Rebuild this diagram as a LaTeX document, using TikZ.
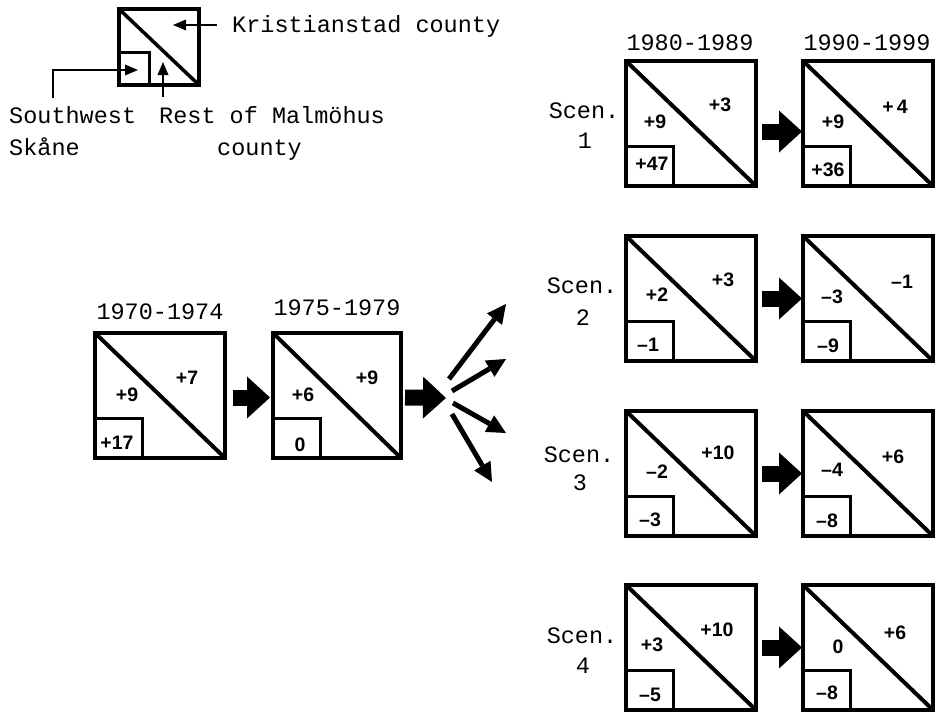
\documentclass[tikz,border=0pt]{standalone}
\usepackage{fontspec}
\setmonofont{Liberation Mono}
\newfontfamily\numfont{Liberation Sans}
\usetikzlibrary{arrows.meta,calc}
\begin{document}
\begin{tikzpicture}[x=1pt,y=-1pt,
  lbl/.style={font=\fontsize{23.5}{26}\selectfont\ttfamily, inner sep=0pt, anchor=base},
  num/.style={font=\fontsize{19.5}{22}\selectfont\numfont\bfseries, inner sep=0pt},
  regbox/.style={draw, line width=4pt, minimum width=130pt, minimum height=125pt, inner sep=0pt, outer sep=0pt, anchor=north west},
  legbox/.style={draw, line width=4pt, minimum width=80pt, minimum height=76pt, inner sep=0pt, outer sep=0pt, anchor=north west},
  fat/.style={line width=16pt, -{Triangle[length=23pt,width=42pt,line width=0pt]}},
  thinarr/.style={line width=5pt, -{Triangle[length=19pt,width=19pt,line width=0pt]}},
  legarr/.style={line width=2.5pt, -{Triangle[length=13pt,width=11pt,line width=0pt]}},
]
\useasboundingbox (0,0) rectangle (937,712);
\newcommand\boxdetail[1]{%
  \draw[line width=4pt] (#1.north west) -- (#1.south east);
  \draw[line width=3pt] (#1.south west) rectangle ++(47,-40);}

% ---- legend ----
\node[legbox] (L) at (119,9) {};
\draw[line width=3.5pt] (L.north west) -- (L.south east);
\draw[line width=3pt] (L.south west) rectangle ++(30,-33);
\node[lbl, anchor=base west] (kr) at (232,32) {Kristianstad county};
\node[lbl, anchor=base west] (sw) at (9,123) {Southwest};
\node[lbl, anchor=base west] (sk) at (9,155) {Skåne};
\node[lbl, anchor=base west] (rm) at (159,123) {Rest of Malmöhus};
\node[lbl, anchor=base west] (co) at (217,155) {county};
\coordinate (krt) at (173,25);
\coordinate (swt) at (138,70);
\coordinate (rmt) at (163,62);
\draw[legarr] (kr.west |- krt) ++(-15,0) -- (krt);
\draw[legarr, line join=miter] (53,98) -- (53,70) -- (swt);
\draw[legarr] (163,97) -- (rmt);

% ---- left chain ----
\node[regbox] (A) at (95,333) {};
\node[regbox, minimum width=128pt] (B) at (273,333) {};
\boxdetail{A}\boxdetail{B}
\node[lbl] (yA) at (160,319) {1970-1974};
\node[lbl] (yB) at (337,315) {1975-1979};
\node[num] (a1) at (187,378) {+7};
\node[num] (a2) at (127,395) {+9};
\node[num] (a3) at (117,443) {+17};
\node[num] (b1) at (367,378) {+9};
\node[num] (b2) at (303,395) {+6};
\node[num] (b3) at (300,445) {0};
\draw[fat] ($(A.east)+(8,2)$) -- ($(B.west)+(-3,2)$);
\coordinate (hub) at (446,398);
\draw[fat] ($(B.east)+(4,2)$) -- (hub);

% fan
\coordinate (f1s) at (449,379); \coordinate (f1e) at (506,304);
\coordinate (f2s) at (452,391); \coordinate (f2e) at (506,359);
\coordinate (f3s) at (453,403); \coordinate (f3e) at (506,433);
\coordinate (f4s) at (452,414); \coordinate (f4e) at (492,482);
\draw[thinarr] (f1s) -- (f1e);
\draw[thinarr] (f2s) -- (f2e);
\draw[thinarr] (f3s) -- (f3e);
\draw[thinarr] (f4s) -- (f4e);

% ---- scenarios ----
\node[lbl] (y80) at (690,50) {1980-1989};
\node[lbl] (y90) at (867,50) {1990-1999};

\node[regbox] (S1a) at (626,61) {};
\node[regbox] (S1b) at (803,61) {};
\node[regbox] (S2a) at (626,236) {};
\node[regbox] (S2b) at (803,236) {};
\node[regbox] (S3a) at (626,411) {};
\node[regbox] (S3b) at (803,411) {};
\node[regbox] (S4a) at (626,585) {};
\node[regbox] (S4b) at (803,585) {};
\boxdetail{S1a}\boxdetail{S1b}\boxdetail{S2a}\boxdetail{S2b}
\boxdetail{S3a}\boxdetail{S3b}\boxdetail{S4a}\boxdetail{S4b}

\node[lbl] (sc1) at (584,118) {Scen.};
\node[lbl] (sn1) at (585,148) {1};
\node[lbl] (sc2) at (582,293) {Scen.};
\node[lbl] (sn2) at (583,325) {2};
\node[lbl] (sc3) at (579,462) {Scen.};
\node[lbl] (sn3) at (580,490) {3};
\node[lbl] (sc4) at (582,643) {Scen.};
\node[lbl] (sn4) at (583,673) {4};

\draw[fat] ($(S1a.east)+(6,8)$) -- ($(S1b.west)+(-1,8)$);
\draw[fat] ($(S2a.east)+(6,0)$) -- ($(S2b.west)+(-1,0)$);
\draw[fat] ($(S3a.east)+(6,0)$) -- ($(S3b.west)+(-1,0)$);
\draw[fat] ($(S4a.east)+(6,0)$) -- ($(S4b.west)+(-1,0)$);

% numbers scen 1
\node[num] (n11) at (720,105) {+3};
\node[num] (n12) at (655,122) {+9};
\node[num] (n13) at (652,164) {+47};
\node[num] (n14) at (895,107) {+\,4};
\node[num] (n15) at (833,122) {+9};
\node[num] (n16) at (828,170) {+36};
% scen 2
\node[num] (n21) at (723,280) {+3};
\node[num] (n22) at (657,295) {+2};
\node[num] (n23) at (648,345) {–1};
\node[num] (n24) at (902,282) {–1};
\node[num] (n25) at (832,297) {–3};
\node[num] (n26) at (828,346) {–9};
% scen 3
\node[num] (n31) at (718,453) {+10};
\node[num] (n32) at (657,472) {–2};
\node[num] (n33) at (650,520) {–3};
\node[num] (n34) at (893,457) {+6};
\node[num] (n35) at (832,470) {–4};
\node[num] (n36) at (827,521) {–8};
% scen 4
\node[num] (n41) at (717,630) {+10};
\node[num] (n42) at (652,645) {+3};
\node[num] (n43) at (650,695) {–5};
\node[num] (n44) at (895,633) {+6};
\node[num] (n45) at (838,647) {0};
\node[num] (n46) at (827,693) {–8};
\end{tikzpicture}
\end{document}
